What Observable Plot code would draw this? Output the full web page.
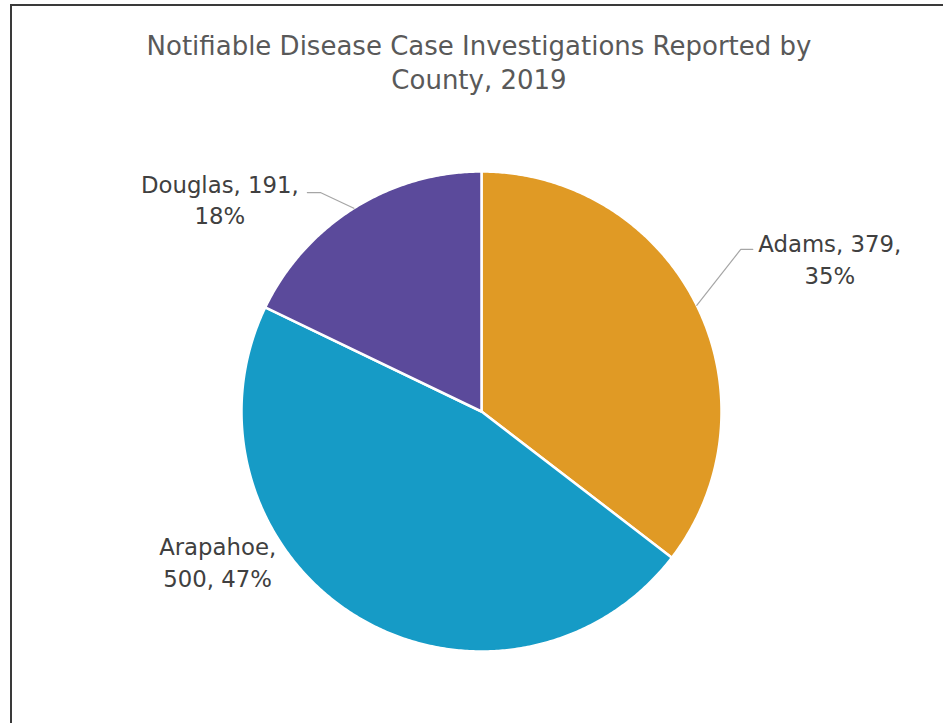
<!DOCTYPE html>
<html>
<head>
<meta charset="utf-8">
<script src="https://cdn.jsdelivr.net/npm/d3@7"></script>
<script src="https://cdn.jsdelivr.net/npm/@observablehq/plot@0.6"></script>
<style>
  html, body { margin: 0; padding: 0; background: #fff; }
  #chart { position: relative; width: 943px; height: 723px; overflow: hidden; }
  #chart svg { position: absolute; left: 0; top: 0; }
  #frame {
    position: absolute; left: 10px; top: 4px; width: 960px; height: 760px;
    border-left: 2px solid #3a3a3a; border-top: 2px solid #3a3a3a;
    pointer-events: none;
  }
  #title {
    position: absolute; left: 0; top: 29px; width: 958px; text-align: center;
    font-family: "DejaVu Sans", sans-serif; font-size: 26px; line-height: 34px;
    color: #595959; pointer-events: none;
  }
</style>
</head>
<body>
<div id="chart">
  <div id="frame"></div>
  <div id="title">Notifiable Disease Case Investigations Reported by<br>County, 2019</div>
</div>
<script>
// Case investigations per county
const counties = ["Adams", "Arapahoe", "Douglas"];
const cases = [379, 500, 191];
const sliceColors = ["#E09A25", "#169BC6", "#5B4A9B"];

// Label placement (pixel offsets from the slice's outer midpoint)
const labelLayout = [
  {county: "Adams",    elbow: [44, -56],      tick: 12,  text: [133, -48],  wrap: "value"},
  {county: "Arapahoe", elbow: null,           tick: 0,   text: [-138, -55], wrap: "name"},
  {county: "Douglas",  elbow: [-33.5, -15.7], tick: -13, text: [-134, -10], wrap: "value"}
];

const W = 943, H = 723;
const margins = {marginLeft: 241, marginRight: 222, marginTop: 171, marginBottom: 72};
const R = (W - margins.marginLeft - margins.marginRight) / 2; // pixels per unit radius

const total = d3.sum(cases);
const rows = counties.map((c, i) => ({county: c, value: cases[i], pct: Math.round(cases[i] / total * 100)}));
const arcs = d3.pie().sort(null).value(d => d.value)(rows);

// Slice outlines in unit coordinates (angle 0 at 12 o'clock, clockwise)
const slicePts = [];
for (const a of arcs) {
  const n = Math.max(2, Math.ceil((a.endAngle - a.startAngle) / (Math.PI / 360)));
  slicePts.push({county: a.data.county, x: 0, y: 0});
  for (let k = 0; k <= n; k++) {
    const t = a.startAngle + (a.endAngle - a.startAngle) * k / n;
    slicePts.push({county: a.data.county, x: Math.sin(t), y: Math.cos(t)});
  }
}

// Leader lines and labels
const leaderPts = [];
const labels = [];
for (const a of arcs) {
  const L = labelLayout.find(l => l.county === a.data.county);
  const mid = (a.startAngle + a.endAngle) / 2;
  const ex = Math.sin(mid), ey = Math.cos(mid);
  if (L.elbow) {
    const bx = ex + L.elbow[0] / R, by = ey - L.elbow[1] / R;
    leaderPts.push({county: a.data.county, x: ex, y: ey});
    leaderPts.push({county: a.data.county, x: bx, y: by});
    leaderPts.push({county: a.data.county, x: bx + L.tick / R, y: by});
  }
  const d = a.data;
  const text = L.wrap === "name"
    ? `${d.county},\n${d.value}, ${d.pct}%`
    : `${d.county}, ${d.value},\n${d.pct}%`;
  labels.push({x: ex + L.text[0] / R, y: ey - L.text[1] / R, text});
}

const svg = Plot.plot({
  width: W,
  height: H,
  ...margins,
  x: {domain: [-1, 1], axis: null},
  y: {domain: [-1, 1], axis: null},
  color: {domain: counties, range: sliceColors},
  style: {background: "transparent", overflow: "visible"},
  marks: [
    Plot.line(slicePts, {x: "x", y: "y", z: "county", fill: "county", stroke: "white", strokeWidth: 2.5, curve: "linear-closed", strokeLinejoin: "round"}),
    Plot.line(leaderPts, {x: "x", y: "y", z: "county", stroke: "#a6a6a6", strokeWidth: 1.2}),
    Plot.text(labels, {x: "x", y: "y", text: "text", fill: "#404040", fontSize: 22.8, lineHeight: 1.4, fontFamily: "DejaVu Sans", textAnchor: "middle", lineAnchor: "middle"})
  ]
});
document.getElementById("chart").prepend(svg);
</script>
</body>
</html>
